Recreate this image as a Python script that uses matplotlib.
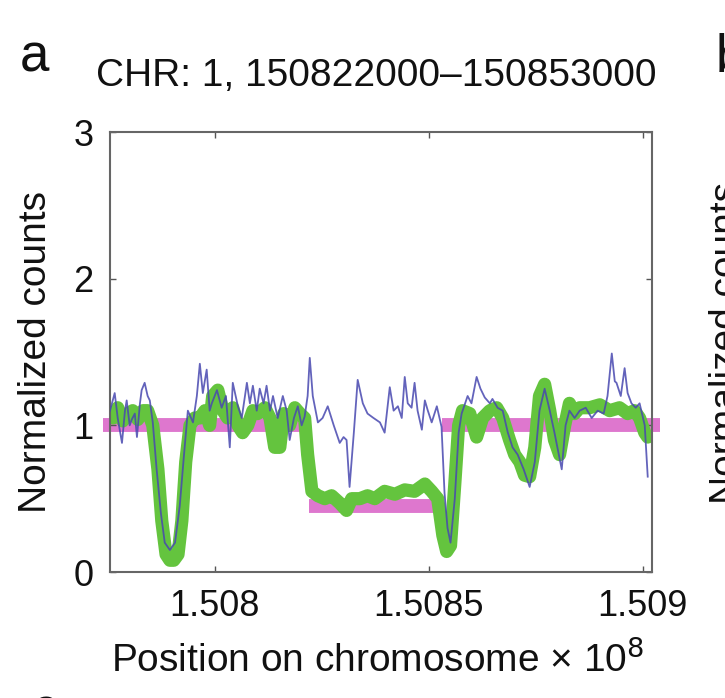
import numpy as np
import matplotlib
matplotlib.use("Agg")
import matplotlib.pyplot as plt

plt.rcParams['font.family'] = ['Liberation Sans', 'DejaVu Sans']

# positions in kb, values = normalized counts
raw_pos = [150774.3, 150775.5, 150776.6, 150777.3, 150778.3, 150779.0, 150779.4, 150780.1,
           150780.6, 150781.3, 150781.8, 150782.5, 150782.9, 150783.6, 150784.3, 150784.8,
           150785.5, 150786.4, 150787.4, 150788.3, 150789.5, 150790.7, 150791.8, 150792.8,
           150793.7, 150794.9, 150795.8, 150796.5, 150797.2, 150798.1, 150798.8, 150799.3,
           150800.5, 150801.6, 150802.6, 150803.5, 150804.2, 150805.4, 150806.3, 150807.5,
           150808.2, 150808.9, 150809.8, 150810.5, 150811.4, 150812.1, 150812.9, 150813.6,
           150814.7, 150815.9, 150816.8, 150817.5, 150818.5, 150819.4, 150820.3, 150821.0,
           150821.7, 150822.2, 150822.9, 150824.1, 150825.2, 150826.4, 150827.8, 150829.2,
           150830.1, 150830.8, 150831.5, 150832.5, 150833.4, 150834.6, 150835.7, 150837.1,
           150838.6, 150839.7, 150840.9, 150841.8, 150842.8, 150843.7, 150844.4, 150845.1,
           150846.0, 150846.7, 150847.4, 150848.4, 150849.1, 150849.8, 150850.7, 150851.9,
           150853.0, 150853.7, 150854.4, 150855.1, 150856.1, 150857.0, 150857.7, 150859.1,
           150860.0, 150861.2, 150862.1, 150863.1, 150864.3, 150864.9, 150866.1, 150867.3,
           150868.5, 150869.6, 150870.8, 150872.2, 150873.6, 150874.8, 150875.9, 150877.1,
           150878.3, 150879.4, 150881.1, 150882.0, 150882.9, 150884.1, 150885.3, 150886.7,
           150888.1, 150889.5, 150890.9, 150891.8, 150892.8, 150893.5, 150893.9, 150894.9,
           150895.8, 150896.5, 150897.4, 150898.4, 150899.3, 150900.5, 150901.2]
raw_val = [1.05, 1.10, 1.22, 1.05, 0.88, 1.10, 1.17, 1.00,
           1.04, 1.08, 0.92, 1.15, 1.24, 1.29, 1.20, 1.17,
           1.02, 0.70, 0.40, 0.20, 0.15, 0.20, 0.45, 0.80,
           1.10, 1.02, 1.20, 1.42, 1.22, 1.38, 1.10, 1.15,
           1.24, 1.12, 1.20, 0.85, 1.29, 1.13, 1.05, 1.29,
           1.15, 1.27, 1.10, 1.25, 1.15, 1.27, 1.10, 1.20,
           1.05, 1.20, 1.10, 0.90, 1.05, 1.13, 1.00, 1.06,
           1.20, 1.46, 1.20, 1.02, 1.05, 1.13, 1.00, 0.88,
           0.92, 0.90, 0.58, 0.95, 1.31, 1.15, 1.08, 1.05,
           1.02, 0.95, 1.26, 1.10, 1.13, 1.05, 1.33, 1.15,
           1.12, 1.29, 1.10, 0.97, 1.17, 1.10, 1.02, 1.13,
           0.99, 0.54, 0.30, 0.20, 0.50, 0.95, 1.08, 1.20,
           1.15, 1.33, 1.25, 1.19, 1.15, 1.18, 1.12, 1.10,
           0.95, 0.85, 0.80, 0.70, 0.58, 0.75, 1.10, 1.25,
           1.10, 0.95, 0.70, 1.00, 1.10, 1.05, 1.10, 1.12,
           1.05, 1.10, 1.08, 1.20, 1.49, 1.30, 1.29, 1.20,
           1.39, 1.22, 1.15, 1.12, 1.15, 1.00, 0.65]

smooth_pos = [150775.0, 150776.2, 150777.3, 150778.5, 150779.7, 150780.8, 150782.0, 150783.2,
              150784.3, 150785.5, 150786.7, 150787.6, 150788.6, 150789.5, 150790.4, 150791.4,
              150792.3, 150793.2, 150794.2, 150795.3, 150796.5, 150797.7, 150798.8, 150799.5,
              150800.7, 150801.9, 150803.0, 150804.2, 150805.4, 150806.5, 150807.7, 150808.9,
              150810.0, 150811.7, 150812.9, 150814.0, 150815.2, 150816.1, 150817.5, 150818.7,
              150819.9, 150821.0, 150821.7, 150822.7, 150824.1, 150825.7, 150827.3, 150829.2,
              150830.8, 150832.0, 150833.9, 150835.7, 150837.4, 150839.7, 150842.1, 150844.4,
              150846.7, 150849.1, 150850.7, 150852.1, 150853.3, 150854.2, 150855.1, 150856.1,
              150857.0, 150857.9, 150859.6, 150861.2, 150862.6, 150864.3, 150865.9, 150867.3,
              150868.9, 150870.1, 150871.3, 150872.4, 150873.6, 150874.8, 150875.9, 150877.1,
              150878.3, 150879.4, 150880.6, 150881.8, 150882.9, 150884.1, 150885.3, 150887.6,
              150890.0, 150892.3, 150894.6, 150896.5, 150898.1, 150899.3, 150900.5, 150901.2]
smooth_val = [1.09, 1.05, 1.12, 1.03, 1.08, 1.10, 1.04, 1.10,
              1.10, 1.00, 0.70, 0.35, 0.12, 0.08, 0.08, 0.12,
              0.35, 0.75, 1.00, 1.05, 1.05, 1.10, 1.00, 1.20,
              1.24, 1.10, 1.05, 1.12, 1.00, 0.95, 1.00, 1.10,
              1.08, 1.12, 1.05, 0.85, 0.85, 1.08, 1.00, 1.12,
              1.08, 1.05, 0.80, 0.55, 0.52, 0.50, 0.52, 0.47,
              0.42, 0.50, 0.50, 0.52, 0.50, 0.55, 0.53, 0.56,
              0.55, 0.60, 0.55, 0.50, 0.25, 0.14, 0.18, 0.60,
              1.00, 1.10, 1.08, 0.92, 1.05, 1.10, 1.12, 1.05,
              0.90, 0.80, 0.75, 0.66, 0.65, 0.85, 1.20, 1.28,
              1.10, 0.90, 0.80, 1.00, 1.15, 1.08, 1.12, 1.12,
              1.14, 1.10, 1.12, 1.08, 1.10, 1.05, 0.95, 0.92]

seg_start = [150773.8, 150822.0, 150853.0]
seg_end = [150822.0, 150853.0, 150904.0]
seg_level = [1.0, 0.45, 1.0]

to_x = lambda kb: np.asarray(kb) * 1e3 / 1e8

fig = plt.figure(figsize=(7.25, 6.98), dpi=100)
ax = fig.add_axes([110 / 725, 126 / 698, 542 / 725, 440 / 698])

for s, e, lv in zip(seg_start, seg_end, seg_level):
    ax.plot(to_x([s, e]), [lv, lv], color='#d655c2', lw=10, alpha=0.8,
            solid_capstyle='butt', clip_on=False, zorder=1)
ax.plot(to_x(smooth_pos), smooth_val, color='#64c43e', lw=9.5,
        solid_joinstyle='round', solid_capstyle='round', zorder=2)
ax.plot(to_x(raw_pos), raw_val, color='#4848b0', lw=1.3, alpha=0.85, zorder=3)

ax.set_xlim(to_x(150775.5), to_x(150902.2))
ax.set_ylim(0, 3)
ax.set_xticks([1.508, 1.5085, 1.509])
ax.set_xticklabels(['1.508', '1.5085', '1.509'])
ax.set_yticks([0, 1, 2, 3])
ax.tick_params(direction='in', length=4, width=1, colors='#555555',
               labelcolor='#111111', labelsize=26, top=True, right=True, pad=12)
for sp in ax.spines.values():
    sp.set_color('#666666')
    sp.set_linewidth(1.5)

fig.text(376 / 725, 1 - 76 / 698, 'CHR: 1, 150822000\u2013150853000',
         ha='center', va='center', fontsize=28, color='#111111')
fig.text(378 / 725, 1 - 660 / 698, 'Position on chromosome \u00d7 10$^{8}$',
         ha='center', va='center', fontsize=28, color='#111111')
fig.text(36 / 725, 1 - 352 / 698, 'Normalized counts', rotation=90,
         ha='center', va='center', fontsize=28, color='#111111')
fig.text(727 / 725, 1 - 343 / 698, 'Normalized counts', rotation=90,
         ha='center', va='center', fontsize=28, color='#111111')
fig.text(20 / 725, 1 - 58 / 698, 'a', ha='left', va='center', fontsize=38, color='#111111')
fig.text(716 / 725, 1 - 58 / 698, 'b', ha='left', va='center', fontsize=38, color='#111111')
fig.text(32 / 725, 1 - 712 / 698, 'c', ha='left', va='center', fontsize=38, color='#111111')

fig.savefig('out.png', dpi=100)
